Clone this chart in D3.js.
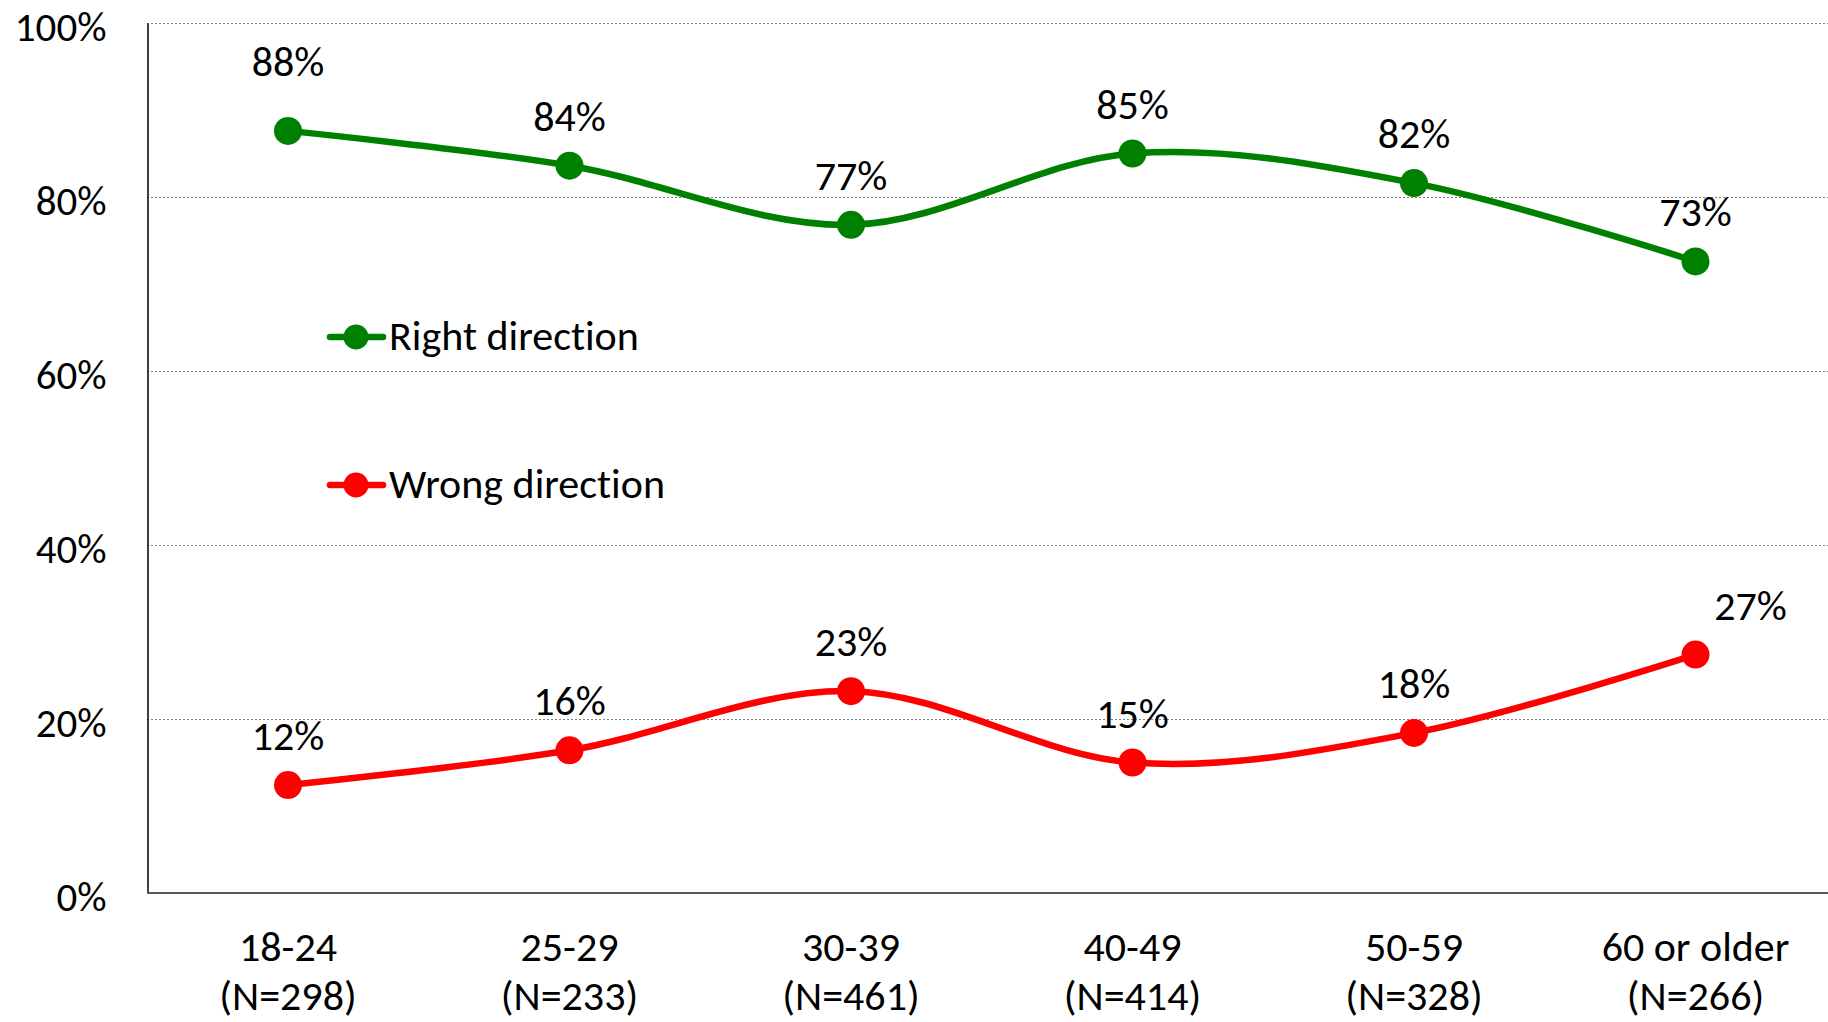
<!DOCTYPE html>
<html>
<head>
<meta charset="utf-8">
<script src="https://cdn.jsdelivr.net/npm/d3@7"></script>
<style>
    body { margin: 0; background: #fff; }
    svg text { font-family: Carlito, Calibri, Lato, sans-serif; fill: #000; font-variant-ligatures: none; }
</style>
</head>
<body>
<svg id="chart"></svg>
<script>
var categories = ["18-24", "25-29", "30-39", "40-49", "50-59", "60 or older"];
var sampleSizes = ["(N=298)", "(N=233)", "(N=461)", "(N=414)", "(N=328)", "(N=266)"];
var rightDirection = [0.876, 0.836, 0.768, 0.850, 0.816, 0.726];
var wrongDirection = [0.124, 0.164, 0.232, 0.150, 0.184, 0.274];
var yTicks = [0, 0.2, 0.4, 0.6, 0.8, 1];

var series = [
    { name: "Right direction", color: "#008000", values: rightDirection },
    { name: "Wrong direction", color: "#ff0000", values: wrongDirection }
];

var width = 1828,
    height = 1022,
    fontSize = 42,
    radius = 14;

var svg = d3.select("#chart")
    .attr("width", width)
    .attr("height", height);

var x = d3.scalePoint()
    .domain(categories)
    .range([288, 1695.5]);

var y = d3.scaleLinear()
    .domain([0, 1])
    .range([893, 23]);

// dotted gridlines
svg.append("g")
    .selectAll("line")
    .data(yTicks.filter(function (d) { return d > 0; }))
    .enter().append("line")
    .attr("x1", 147)
    .attr("x2", width)
    .attr("y1", function (d) { return Math.round(y(d)) + 0.5; })
    .attr("y2", function (d) { return Math.round(y(d)) + 0.5; })
    .attr("stroke", "#808080")
    .attr("stroke-width", 1)
    .attr("stroke-dasharray", "2,2");

// y axis
var yAxis = svg.append("g")
    .attr("transform", "translate(147.5,0)")
    .call(d3.axisLeft(y).tickValues(yTicks).tickFormat(d3.format(".0%")).tickSize(0).tickPadding(41));
yAxis.select(".domain").attr("stroke", "#000").attr("stroke-width", 1.5);
yAxis.selectAll("text")
    .style("font-size", "41px")
    .attr("dy", "0.42em");

// x axis
svg.append("line")
    .attr("x1", 147)
    .attr("x2", width)
    .attr("y1", 893)
    .attr("y2", 893)
    .attr("stroke", "#595959")
    .attr("stroke-width", 2);

var xLabels = svg.append("g").selectAll("text")
    .data(categories)
    .enter().append("text")
    .attr("text-anchor", "middle")
    .style("font-size", fontSize + "px");
xLabels.append("tspan")
    .attr("x", function (d) { return x(d); })
    .attr("y", 961)
    .text(function (d) { return d; });
xLabels.append("tspan")
    .attr("x", function (d) { return x(d); })
    .attr("y", 1010)
    .text(function (d, i) { return sampleSizes[i]; });

var line = d3.line()
    .x(function (d, i) { return x(categories[i]); })
    .y(function (d) { return y(d); })
    .curve(d3.curveCardinal.tension(0));

// some labels were moved by hand in the original
function labelShift(s, i) {
    if (s === 0 && i === 0) return [0, -20];
    if (s === 1 && i === 5) return [55, 0];
    return [0, 0];
}

series.forEach(function (s, si) {
    var g = svg.append("g");
    g.append("path")
        .attr("d", line(s.values))
        .attr("fill", "none")
        .attr("stroke", s.color)
        .attr("stroke-width", 6.5)
        .attr("stroke-linecap", "round");
    g.selectAll("circle")
        .data(s.values)
        .enter().append("circle")
        .attr("cx", function (d, i) { return x(categories[i]); })
        .attr("cy", function (d) { return y(d); })
        .attr("r", radius)
        .attr("fill", s.color);
    g.selectAll("text")
        .data(s.values)
        .enter().append("text")
        .attr("x", function (d, i) { return x(categories[i]) + labelShift(si, i)[0]; })
        .attr("y", function (d, i) { return y(d) - 35 + labelShift(si, i)[1]; })
        .attr("text-anchor", "middle")
        .style("font-size", fontSize + "px")
        .text(function (d) { return Math.round(d * 100) + "%"; });
});

// legend
var legend = svg.append("g").selectAll("g")
    .data(series)
    .enter().append("g")
    .attr("transform", function (d, i) { return "translate(0," + (337 + i * 148) + ")"; });
legend.append("line")
    .attr("x1", 330)
    .attr("x2", 383)
    .attr("stroke", function (d) { return d.color; })
    .attr("stroke-width", 6.5)
    .attr("stroke-linecap", "round");
legend.append("circle")
    .attr("cx", 356)
    .attr("r", 12.5)
    .attr("fill", function (d) { return d.color; });
legend.append("text")
    .attr("x", 389)
    .attr("y", 13)
    .style("font-size", fontSize + "px")
    .text(function (d) { return d.name; });
</script>
</body>
</html>
